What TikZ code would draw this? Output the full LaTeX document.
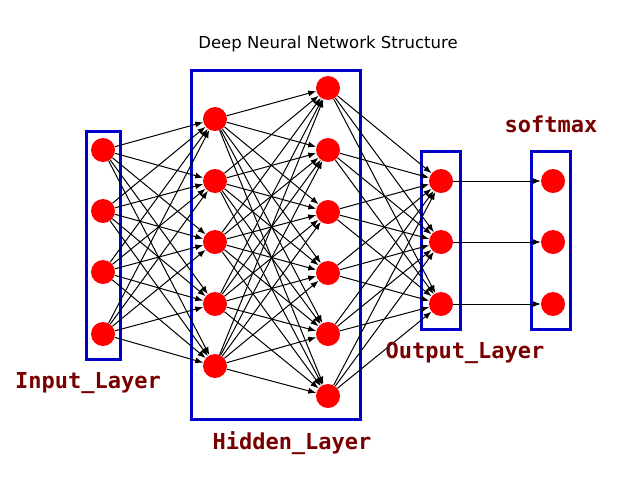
\documentclass[tikz,border=0pt]{standalone}
\usepackage{fontspec}
\setmainfont{DejaVu Sans}
\newfontfamily\labelfont{DejaVu Sans Mono}
\usetikzlibrary{arrows.meta}
\definecolor{boxblue}{RGB}{0,0,200}
\definecolor{labelred}{RGB}{120,0,0}
\tikzstyle{neuron} = [circle, fill=red, minimum size=24pt, inner sep=0pt]
\tikzstyle{layerbox} = [draw=boxblue, line width=3pt, inner sep=0pt]
\tikzstyle{layername} = [text=labelred, font=\labelfont\bfseries\fontsize{22}{22}\selectfont]
\tikzstyle{link} = [-{Latex[length=8pt,width=6pt]}, line width=1pt]

\begin{document}
\begin{tikzpicture}[x=1pt, y=-1pt]
\useasboundingbox (0,0) rectangle (640,480);

\node (title) at (328,44) {\fontsize{16.5}{16.5}\selectfont Deep Neural Network Structure};

% layer frames
\node [layerbox, minimum width=34pt, minimum height=228pt] (inbox) at (103,245) {};
\node [layerbox, minimum width=169pt, minimum height=349pt] (hidbox) at (275.5,244.5) {};
\node [layerbox, minimum width=39pt, minimum height=178pt] (outbox) at (440.5,240) {};
\node [layerbox, minimum width=39pt, minimum height=178pt] (smbox) at (550.5,240) {};

% neurons
\foreach \y [count=\i] in {150,211,272,334}
  \node [neuron] (in\i) at (103,\y) {};
\foreach \y [count=\i] in {119,181,242,304,366}
  \node [neuron] (ha\i) at (215,\y) {};
\foreach \y [count=\i] in {88,150,212,273,334,396}
  \node [neuron] (hb\i) at (328,\y) {};
\foreach \y [count=\i] in {181,242,304}
  \node [neuron] (out\i) at (441,\y) {};
\foreach \y [count=\i] in {181,242,304}
  \node [neuron] (sm\i) at (553,\y) {};

% connections
\foreach \i in {1,...,4}
  \foreach \j in {1,...,5}
    \draw [link] (in\i) -- (ha\j);
\foreach \i in {1,...,5}
  \foreach \j in {1,...,6}
    \draw [link] (ha\i) -- (hb\j);
\foreach \i in {1,...,6}
  \foreach \j in {1,...,3}
    \draw [link] (hb\i) -- (out\j);
\foreach \i in {1,...,3}
  \draw [link] (out\i) -- (sm\i);

% layer names
\node [layername] (inname) at (88,383) {Input\_Layer};
\node [layername] (hidname) at (292,443) {Hidden\_Layer};
\node [layername] (outname) at (465,353) {Output\_Layer};
\node [layername] (smname) at (551,124) {softmax};
\end{tikzpicture}
\end{document}
